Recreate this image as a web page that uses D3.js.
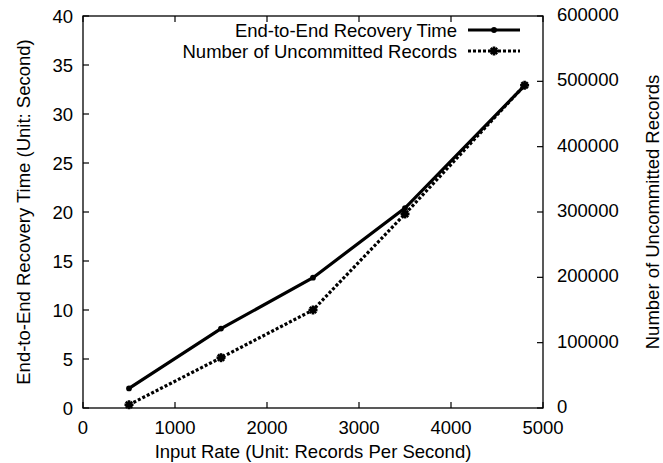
<!DOCTYPE html>
<html>
<head>
<meta charset="utf-8">
<script src="https://cdn.jsdelivr.net/npm/d3@7"></script>
<style>
  html, body { margin: 0; padding: 0; background: #fff; }
  svg { display: block; }
  text { font-family: "Liberation Sans", Arial, Helvetica, sans-serif; fill: #000; }
</style>
</head>
<body>
<svg id="chart" width="663" height="463"></svg>
<script>
// Input rates (records per second)
const inputRates = [500, 1500, 2500, 3500, 4800];
// End-to-end recovery time in seconds (left axis)
const recoveryTime = [2.0, 8.1, 13.3, 20.4, 32.9];
// Number of uncommitted records (right axis)
const uncommitted = [5000, 77000, 150000, 297000, 494000];

const xTicks = [0, 1000, 2000, 3000, 4000, 5000];
const yTicks = [0, 5, 10, 15, 20, 25, 30, 35, 40];
const y2Ticks = [0, 100000, 200000, 300000, 400000, 500000, 600000];

const seriesNames = ["End-to-End Recovery Time", "Number of Uncommitted Records"];

const plot = { left: 83, right: 543, top: 16, bottom: 408 };
const fontSize = 18.5;
const tickLen = 6;

const svg = d3.select("#chart");

const x = d3.scaleLinear().domain([0, 5000]).range([plot.left, plot.right]);
const y = d3.scaleLinear().domain([0, 40]).range([plot.bottom, plot.top]);
const y2 = d3.scaleLinear().domain([0, 600000]).range([plot.bottom, plot.top]);

// Frame
svg.append("rect")
  .attr("x", plot.left).attr("y", plot.top)
  .attr("width", plot.right - plot.left).attr("height", plot.bottom - plot.top)
  .attr("fill", "none").attr("stroke", "#000").attr("stroke-width", 1.3);

const ticks = svg.append("g").attr("stroke", "#000").attr("stroke-width", 1.2);

// x ticks, inward on bottom and mirrored on top
xTicks.forEach(t => {
  ticks.append("line").attr("x1", x(t)).attr("x2", x(t))
    .attr("y1", plot.bottom).attr("y2", plot.bottom - tickLen);
  ticks.append("line").attr("x1", x(t)).attr("x2", x(t))
    .attr("y1", plot.top).attr("y2", plot.top + tickLen);
});
// left y ticks
yTicks.forEach(t => {
  ticks.append("line").attr("x1", plot.left).attr("x2", plot.left + tickLen)
    .attr("y1", y(t)).attr("y2", y(t));
});
// right y2 ticks
y2Ticks.forEach(t => {
  ticks.append("line").attr("x1", plot.right).attr("x2", plot.right - tickLen)
    .attr("y1", y2(t)).attr("y2", y2(t));
});

// Tick labels
const labels = svg.append("g").attr("font-size", fontSize);
xTicks.forEach(t => {
  labels.append("text").attr("x", x(t)).attr("y", plot.bottom + 26)
    .attr("text-anchor", "middle").text(t);
});
yTicks.forEach(t => {
  labels.append("text").attr("x", plot.left - 10).attr("y", y(t) + 6.5)
    .attr("text-anchor", "end").text(t);
});
y2Ticks.forEach(t => {
  labels.append("text").attr("x", plot.right + 14).attr("y", y2(t) + 5)
    .attr("text-anchor", "start").text(t);
});

// Axis titles
svg.append("text").attr("font-size", fontSize)
  .attr("x", (plot.left + plot.right) / 2).attr("y", 458)
  .attr("text-anchor", "middle").text("Input Rate (Unit: Records Per Second)");
svg.append("text").attr("font-size", fontSize)
  .attr("transform", `translate(30,${(plot.top + plot.bottom) / 2}) rotate(-90)`)
  .attr("text-anchor", "middle").text("End-to-End Recovery Time (Unit: Second)");
svg.append("text").attr("font-size", fontSize)
  .attr("transform", `translate(659,${(plot.top + plot.bottom) / 2}) rotate(-90)`)
  .attr("text-anchor", "middle").text("Number of Uncommitted Records");

// Series lines
const line1 = d3.line().x((d, i) => x(inputRates[i])).y(d => y(d));
const line2 = d3.line().x((d, i) => x(inputRates[i])).y(d => y2(d));

const dotted = "3,2";

svg.append("path").datum(recoveryTime).attr("d", line1)
  .attr("fill", "none").attr("stroke", "#000").attr("stroke-width", 3.2)
  .attr("stroke-linejoin", "miter");
svg.append("path").datum(uncommitted).attr("d", line2)
  .attr("fill", "none").attr("stroke", "#000").attr("stroke-width", 3.2)
  .attr("stroke-dasharray", dotted);

// Markers
const circleSym = d3.symbol().type(d3.symbolCircle).size(26);

svg.append("g").selectAll("path").data(recoveryTime).join("path")
  .attr("transform", (d, i) => `translate(${x(inputRates[i])},${y(d)})`)
  .attr("d", circleSym()).attr("fill", "#000");

function starMark(g, cx, cy) {
  [0, 45, 90, 135].forEach(a => {
    g.append("line")
      .attr("x1", cx - 4.5).attr("x2", cx + 4.5).attr("y1", cy).attr("y2", cy)
      .attr("transform", `rotate(${a},${cx},${cy})`)
      .attr("stroke", "#000").attr("stroke-width", 2.6);
  });
}
const starG = svg.append("g");
uncommitted.forEach((d, i) => starMark(starG, x(inputRates[i]), y2(d)));

// Legend
const legend = svg.append("g").attr("font-size", fontSize);
const legX0 = 468, legX1 = 520, legMid = 494;
const rows = [30, 51];
legend.append("text").attr("x", 457).attr("y", rows[0] + 6.5).attr("text-anchor", "end").text(seriesNames[0]);
legend.append("text").attr("x", 457).attr("y", rows[1] + 6.5).attr("text-anchor", "end").text(seriesNames[1]);
legend.append("line").attr("x1", legX0).attr("x2", legX1).attr("y1", rows[0]).attr("y2", rows[0])
  .attr("stroke", "#000").attr("stroke-width", 3.2);
legend.append("path").attr("transform", `translate(${legMid},${rows[0]})`).attr("d", circleSym()).attr("fill", "#000");
legend.append("line").attr("x1", legX0).attr("x2", legX1).attr("y1", rows[1]).attr("y2", rows[1])
  .attr("stroke", "#000").attr("stroke-width", 3.2).attr("stroke-dasharray", dotted);
starMark(legend, legMid, rows[1]);
</script>
</body>
</html>
